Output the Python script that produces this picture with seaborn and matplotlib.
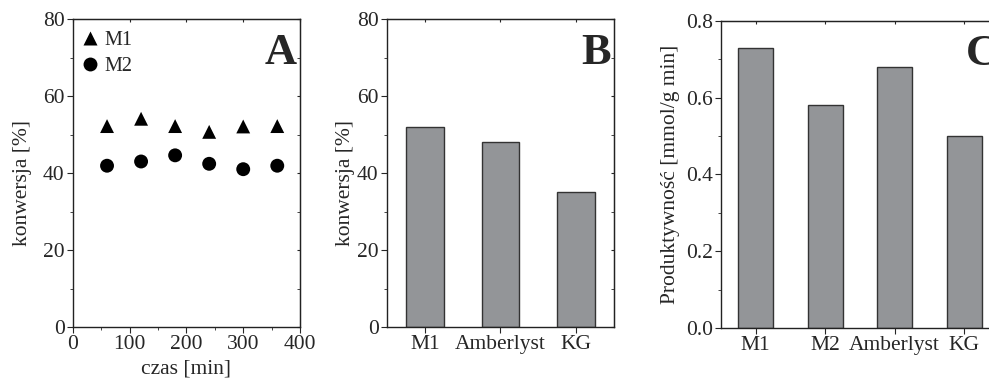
import pandas as pd
import matplotlib.pyplot as plt
import seaborn as sns
from matplotlib.ticker import MultipleLocator

# panel A: conversion over time
czas = [60, 120, 180, 240, 300, 360]
m1_konw = [52.2, 54.1, 52.2, 50.7, 52.1, 52.2]
m2_konw = [41.9, 43.0, 44.6, 42.4, 41.0, 41.9]

# panel B: conversion by catalyst
kat_b = ["M1", "Amberlyst", "KG"]
konw_b = [52, 48, 35]

# panel C: productivity by catalyst
kat_c = ["M1", "M2", "Amberlyst", "KG"]
prod_c = [0.73, 0.58, 0.68, 0.50]

sns.set_style("ticks")
plt.rcParams["font.family"] = ["Liberation Serif", "DejaVu Serif"]
plt.rcParams["font.size"] = 15.5

FS = 15.5

df_a = pd.DataFrame({
    "czas": czas * 2,
    "konwersja": m1_konw + m2_konw,
    "seria": ["M1"] * len(czas) + ["M2"] * len(czas),
})
df_b = pd.DataFrame({"kat": kat_b, "konwersja": konw_b})
df_c = pd.DataFrame({"kat": kat_c, "prod": prod_c})

fig = plt.figure(figsize=(9.89, 3.83), dpi=100)
axA = fig.add_axes([0.0738, 0.1462, 0.2295, 0.804])
axB = fig.add_axes([0.3913, 0.1462, 0.2295, 0.804])
axC = fig.add_axes([0.729, 0.1436, 0.281, 0.8016])

bar_color = "#939598"

# --- A
sns.scatterplot(data=df_a, x="czas", y="konwersja", style="seria",
                markers={"M1": "^", "M2": "o"}, color="black", s=100,
                edgecolor="none", ax=axA)
axA.set_xlim(0, 400)
axA.set_ylim(0, 80)
axA.xaxis.set_major_locator(MultipleLocator(100))
axA.xaxis.set_minor_locator(MultipleLocator(50))
axA.yaxis.set_major_locator(MultipleLocator(20))
axA.yaxis.set_minor_locator(MultipleLocator(10))
axA.set_xlabel("czas [min]", fontsize=FS)
axA.set_ylabel("konwersja [%]", fontsize=FS)
axA.yaxis.set_label_coords(-0.18, 0.468)
axA.legend(loc="upper left", bbox_to_anchor=(0.005, 0.975), frameon=False,
           handletextpad=0.1, handlelength=1.2, borderaxespad=0.0,
           borderpad=0.2, labelspacing=0.35, fontsize=14.5, title=None)
axA.text(0.985, 0.955, "A", transform=axA.transAxes, ha="right", va="top",
         fontsize=32, fontweight="bold")

# --- B
sns.barplot(data=df_b, x="kat", y="konwersja", color=bar_color, width=0.5,
            edgecolor="#333333", linewidth=1, saturation=1, ax=axB)
axB.set_xlim(-0.5, 2.5)
axB.set_ylim(0, 80)
axB.yaxis.set_major_locator(MultipleLocator(20))
axB.yaxis.set_minor_locator(MultipleLocator(10))
axB.set_xlabel("")
axB.set_ylabel("konwersja [%]", fontsize=FS)
axB.yaxis.set_label_coords(-0.14, 0.468)
axB.text(0.985, 0.955, "B", transform=axB.transAxes, ha="right", va="top",
         fontsize=32, fontweight="bold")

# --- C
sns.barplot(data=df_c, x="kat", y="prod", color=bar_color, width=0.5,
            edgecolor="#333333", linewidth=1, saturation=1, ax=axC)
axC.set_xlim(-0.5, 3.5)
axC.set_ylim(0, 0.8)
axC.yaxis.set_major_locator(MultipleLocator(0.2))
axC.yaxis.set_minor_locator(MultipleLocator(0.1))
axC.yaxis.set_major_formatter(plt.FormatStrFormatter("%.1f"))
axC.set_xlabel("")
axC.set_ylabel("Produktywność [mmol/g min]", fontsize=FS)
axC.yaxis.set_label_coords(-0.148, 0.5)
axC.text(3.02, 0.765, "C", ha="left", va="top", fontsize=32,
         fontweight="bold")

for ax in (axA, axB, axC):
    for sp in ax.spines.values():
        sp.set_visible(True)
        sp.set_linewidth(1)
        sp.set_color("#222222")
    ax.tick_params(which="both", direction="out", labelsize=FS, pad=2)
    ax.tick_params(which="major", length=4)
    ax.tick_params(which="minor", length=2.5)
    # short inward ticks on the top and right spines
    top = ax.secondary_xaxis("top")
    top.set_xticks(ax.get_xticks(minor=False))
    top.tick_params(direction="in", length=2.5, labeltop=False)
    top.set_xticklabels([])
    right = ax.secondary_yaxis("right")
    right.yaxis.set_major_locator(ax.yaxis.get_major_locator())
    right.yaxis.set_minor_locator(ax.yaxis.get_minor_locator())
    right.tick_params(which="both", direction="in", length=2.5,
                      labelright=False)

fig.savefig("out.png", dpi=100)
